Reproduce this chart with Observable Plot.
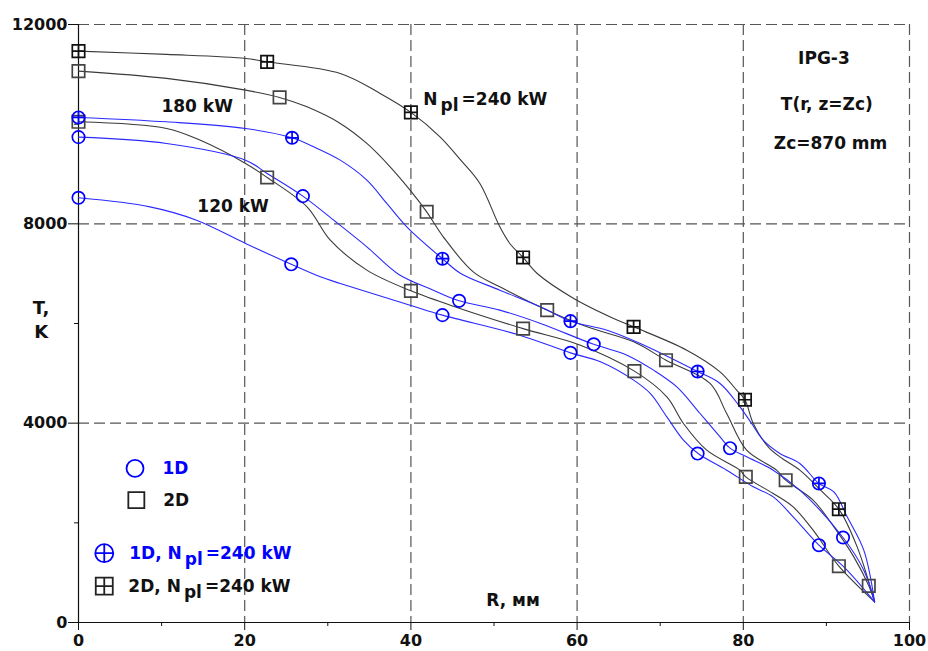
<!DOCTYPE html>
<html><head><meta charset="utf-8">
<script src="https://cdn.jsdelivr.net/npm/d3@7"></script>
<script src="https://cdn.jsdelivr.net/npm/@observablehq/plot@0.6"></script>
<style>body{margin:0;background:#fff}</style>
</head><body><div id="chart"></div>
<script>
// ---- Data: R (mm) and T (K) ----
// 2D, N_pl = 240 kW (crossed squares)
const a2D240_R = [0, 10.6, 20.1, 22.7, 31.5, 36.3, 40.0, 43.5, 46.0, 48.3, 50.7, 51.9, 53.5, 55.2, 59.6, 64.4, 66.8, 73.2, 77.2, 79.2, 80.2, 81.2, 83.0, 84.4, 86.8, 89.3, 91.5, 93.7, 95.8];
const a2D240_T = [11466, 11400, 11319, 11251, 11018, 10617, 10236, 9746, 9278, 8811, 7940, 7606, 7325, 7004, 6503, 6101, 5933, 5465, 5030, 4662, 4470, 3994, 3524, 3323, 3057, 2655, 2274, 1517, 414];
// 2D, 180 kW (squares)
const b2D180_R = [0, 10.6, 20.1, 24.2, 27.5, 31.5, 34.7, 37.5, 39.9, 41.9, 43.9, 47.5, 50.7, 56.4, 61.2, 66.8, 70.7, 76.0, 78.0, 80.4, 84.0, 85.1, 88.4, 90.9, 93.3, 95.1, 95.8];
const b2D180_T = [11065, 10918, 10683, 10537, 10348, 10015, 9613, 9144, 8676, 8241, 7739, 7036, 6736, 6268, 5933, 5632, 5264, 4797, 4194, 3458, 3057, 2856, 2455, 1919, 1317, 735, 414];
// 2D, 120 kW (squares)
const e2D120_R = [0, 10.6, 14.6, 20.1, 22.7, 27.5, 30.3, 34.7, 40.0, 45.9, 53.5, 60.4, 66.9, 70.8, 72.8, 75.6, 79.6, 80.3, 83.6, 86.0, 88.4, 91.5, 95.8];
const e2D120_T = [10047, 9914, 9680, 9212, 8931, 8341, 7673, 7071, 6655, 6302, 5897, 5565, 5044, 4528, 3994, 3458, 3057, 2922, 2589, 2320, 1852, 1130, 414];
// 1D, N_pl = 240 kW (crossed circles)
const c1D240_R = [0, 10.6, 20.1, 25.7, 28.3, 31.5, 34.7, 37.1, 39.5, 43.8, 46.0, 50.7, 55.6, 59.2, 63.6, 67.6, 74.5, 77.2, 79.6, 81.0, 82.4, 84.4, 86.8, 89.1, 90.9, 92.5, 94.5, 95.8];
const c1D240_T = [10135, 10047, 9914, 9726, 9545, 9278, 8877, 8409, 7940, 7300, 7004, 6669, 6334, 6047, 5866, 5600, 5037, 4797, 4327, 3994, 3659, 3392, 3191, 2790, 2621, 2120, 1451, 414];
// 1D, 180 kW (circles)
const d1D180_R = [0, 10.6, 20.1, 22.7, 27.0, 30.7, 34.7, 38.5, 42.7, 45.8, 50.7, 55.6, 62.0, 66.0, 69.2, 72.0, 74.8, 77.2, 78.4, 80.4, 83.6, 86.8, 92.0, 94.5, 95.8];
const d1D180_T = [9740, 9613, 9278, 9011, 8556, 8074, 7538, 6990, 6669, 6455, 6268, 6001, 5582, 5365, 5064, 4729, 4194, 3725, 3498, 3324, 3057, 2655, 1706, 1050, 414];
// 1D, 120 kW (circles)
const f1D120_R = [0, 8.6, 14.2, 20.1, 25.6, 29.1, 31.5, 39.9, 43.8, 53.1, 59.2, 62.8, 66.8, 68.8, 70.8, 72.8, 74.6, 78.0, 81.2, 83.6, 86.0, 89.1, 92.1, 95.8];
const f1D120_T = [8522, 8341, 8074, 7607, 7188, 6936, 6804, 6368, 6168, 5766, 5411, 5231, 4863, 4596, 4127, 3659, 3385, 3057, 2722, 2521, 2120, 1551, 1116, 414];

// Marker positions
const a2D240_mR = [0, 22.7, 40.0, 53.5, 66.8, 80.2, 91.5];
const a2D240_mT = [11466, 11251, 10236, 7325, 5933, 4470, 2274];
const b2D180_mR = [0, 24.2, 41.9, 56.4, 70.7, 85.1, 95.1];
const b2D180_mT = [11065, 10537, 8241, 6268, 5264, 2856, 735];
const e2D120_mR = [0, 22.7, 40.0, 53.5, 66.9, 80.3, 91.5];
const e2D120_mT = [10047, 8931, 6655, 5897, 5044, 2922, 1130];
const c1D240_mR = [0, 25.7, 43.8, 59.2, 74.5, 89.1];
const c1D240_mT = [10135, 9726, 7300, 6047, 5037, 2790];
const d1D180_mR = [0, 27.0, 45.8, 62.0, 78.4, 92.0];
const d1D180_mT = [9740, 8556, 6455, 5582, 3498, 1706];
const f1D120_mR = [0, 25.6, 43.8, 59.2, 74.5, 89.1];
const f1D120_mT = [8522, 7188, 6168, 5411, 3390, 1551];

const xTicks = [0, 20, 40, 60, 80, 100];
const xMinor = [10, 30, 50, 70, 90];
const yTicks = [0, 4000, 8000, 12000];
const yMinor = [2000, 6000, 10000];

// ---- helpers ----
const pts = (R, T) => R.map((r, i) => ({r, t: T[i]}));
const BLUE_LINE = "#2a2aff", BLUE = "#0000ff", GREY = "#3a3a3a", DARK = "#111";

const circlePlus = {draw(ctx, size) {
  const r = Math.sqrt(size / Math.PI);
  ctx.moveTo(r, 0); ctx.arc(0, 0, r, 0, 2 * Math.PI);
  ctx.moveTo(-r, 0); ctx.lineTo(r, 0);
  ctx.moveTo(0, -r); ctx.lineTo(0, r);
}};
const squareSym = {draw(ctx, size) {
  const r = Math.sqrt(size / Math.PI);
  ctx.rect(-r, -r, 2 * r, 2 * r);
}};
const squarePlus = {draw(ctx, size) {
  const r = Math.sqrt(size / Math.PI);
  ctx.rect(-r, -r, 2 * r, 2 * r);
  ctx.moveTo(-r, 0); ctx.lineTo(r, 0);
  ctx.moveTo(0, -r); ctx.lineTo(0, r);
}};

const lineSeries = [
  [a2D240_R, a2D240_T, GREY],
  [b2D180_R, b2D180_T, GREY],
  [e2D120_R, e2D120_T, GREY],
  [c1D240_R, c1D240_T, BLUE_LINE],
  [d1D180_R, d1D180_T, BLUE_LINE],
  [f1D120_R, f1D120_T, BLUE_LINE]
];
const markerSeries = [
  [a2D240_mR, a2D240_mT, squarePlus, DARK],
  [b2D180_mR, b2D180_mT, squareSym, "#444"],
  [e2D120_mR, e2D120_mT, squareSym, "#444"],
  [c1D240_mR, c1D240_mT, circlePlus, BLUE],
  [d1D180_mR, d1D180_mT, "circle", BLUE],
  [f1D120_mR, f1D120_mT, "circle", BLUE]
];

const fmt = d3.format("d");
const dash = "11,5";

const legendRows = [
  {r: 6.8, t: 3091, sym: "circle", c: BLUE, label: "1D", rad: 8.5, lx: 10.1},
  {r: 6.96, t: 2454, sym: squareSym, c: "#222", label: "2D", rad: 8, lx: 10.2},
  {r: 3.1, t: 1391, sym: circlePlus, c: BLUE, label: "1D, N_pl=240 kW", rad: 9, lx: 6.1},
  {r: 3.1, t: 729, sym: squarePlus, c: "#222", label: "2D, N_pl=240 kW", rad: 8.5, lx: 6.0}
];

const marks = [
  // grid
  Plot.ruleX([20, 40, 60, 80, 100], {stroke: "#555", strokeWidth: 1.2, strokeDasharray: dash}),
  Plot.ruleY([4000, 8000, 12000], {stroke: "#555", strokeWidth: 1.2, strokeDasharray: dash}),
  // axes
  Plot.axisY({ticks: yTicks, tickSize: 10, tickPadding: 1, tickFormat: fmt, label: null, fontSize: 16, stroke: DARK}),
  Plot.axisY({ticks: yMinor, tickSize: 4, tickFormat: () => "", label: null, stroke: DARK}),
  Plot.axisX({ticks: xTicks, tickSize: 8, tickPadding: 4, tickFormat: fmt, label: null, fontSize: 16, stroke: DARK}),
  Plot.axisX({ticks: xMinor, tickSize: 4, tickFormat: () => "", label: null, stroke: DARK}),
  Plot.ruleX([0], {stroke: DARK, strokeWidth: 1.2}),
  Plot.ruleY([0], {stroke: DARK, strokeWidth: 1.2}),
  // curves
  ...lineSeries.map(([R, T, c]) => Plot.line(pts(R, T), {x: "r", y: "t", stroke: c, strokeWidth: 1.1, curve: "catmull-rom"})),
  // markers
  ...markerSeries.map(([R, T, s, c]) => Plot.dot(pts(R, T), {x: "r", y: "t", symbol: s, r: 6.2, stroke: c, strokeWidth: 1.7, fill: "none"})),
  // annotations
  Plot.text(["180 kW"], {x: 9.98, y: 10362, textAnchor: "start", fontSize: 17, fontWeight: "bold", fill: "#111"}),
  Plot.text(["120 kW"], {x: 14.3, y: 8355, textAnchor: "start", fontSize: 17, fontWeight: "bold", fill: "#111"}),
  Plot.text(["N_pl=240 kW"], {x: 41.5, y: 10498, textAnchor: "start", fontSize: 17, fontWeight: "bold", fill: "#111"}),
  Plot.text(["IPG-3"], {x: 89.7, y: 11311, fontSize: 17, fontWeight: "bold", fill: "#111"}),
  Plot.text(["T(r, z=Zc)"], {x: 90.05, y: 10402, fontSize: 17, fontWeight: "bold", fill: "#111"}),
  Plot.text(["Zc=870 mm"], {x: 90.5, y: 9620, fontSize: 17, fontWeight: "bold", fill: "#111"}),
  Plot.text(["T,\nK"], {x: -4.5, y: 6100, fontSize: 18, fontWeight: "bold", lineHeight: 1.3, fill: "#111"}),
  Plot.text(["R, мм"], {x: 52.3, y: 448, fontSize: 17, fontWeight: "bold", fill: "#111"}),
  // legend
  ...legendRows.map(d => Plot.dot([d], {x: "r", y: "t", symbol: d.sym, r: d.rad, stroke: d.c, strokeWidth: 1.8, fill: "none"})),
  Plot.text(legendRows, {x: "lx", y: "t", text: "label", textAnchor: "start", fontSize: 17, fontWeight: "bold", fill: d => d.c === BLUE ? BLUE : "#111"})
];

const chart = Plot.plot({
  width: 928, height: 651,
  marginLeft: 78, marginRight: 19, marginTop: 24, marginBottom: 29,
  x: {domain: [0, 100]},
  y: {domain: [0, 12000]},
  style: {fontFamily: "DejaVu Sans, sans-serif", fontWeight: "bold", fontSize: "16px", background: "#fff", color: "#111"},
  marks
});

// subscript "pl"
chart.querySelectorAll("text").forEach(el => {
  const s = el.textContent;
  if (!s.includes("_pl")) return;
  const [a, b] = s.split("_pl");
  while (el.firstChild) el.removeChild(el.firstChild);
  const ns = "http://www.w3.org/2000/svg";
  el.appendChild(document.createTextNode(a));
  const sub = document.createElementNS(ns, "tspan");
  sub.setAttribute("dx", "3"); sub.setAttribute("dy", "6"); sub.textContent = "pl";
  el.appendChild(sub);
  const rest = document.createElementNS(ns, "tspan");
  rest.setAttribute("dx", "3"); rest.setAttribute("dy", "-6"); rest.textContent = b;
  el.appendChild(rest);
});

document.getElementById("chart").appendChild(chart);
</script></body></html>
